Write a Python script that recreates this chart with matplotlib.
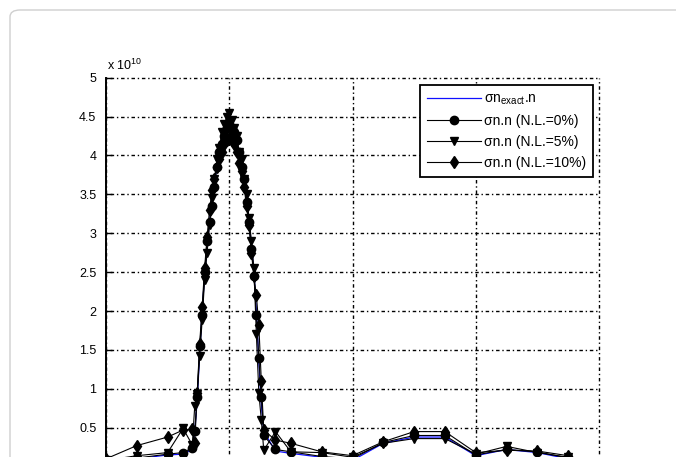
import numpy as np
import matplotlib.pyplot as plt
from matplotlib.patches import FancyBboxPatch
from matplotlib.ticker import FuncFormatter

plt.rcParams['font.family'] = ['Liberation Sans', 'DejaVu Sans']
plt.rcParams['mathtext.fontset'] = 'custom'
plt.rcParams['mathtext.rm'] = 'Liberation Sans'

# sample positions (refined around the peak)
x = [0, 2.5, 5, 6.25, 7.0,
     7.2, 7.4, 7.6, 7.8, 8.0, 8.2, 8.4, 8.6, 8.8, 9.0, 9.2, 9.4, 9.6, 9.8,
     10.0, 10.2, 10.4, 10.6, 10.8, 11.0, 11.2, 11.4, 11.6, 11.8, 12.0,
     12.2, 12.4, 12.6, 12.8,
     13.75, 15, 17.5, 20, 22.5, 25, 27.5, 30, 32.5, 35, 37.5]

# values in units of 1e10
exact = [0.05, 0.10, 0.15, 0.16, 0.22,
         0.45, 0.85, 1.45, 2.00, 2.45, 2.85, 3.15, 3.40, 3.65, 3.85, 4.00, 4.15, 4.30, 4.40,
         4.45, 4.40, 4.30, 4.15, 4.00, 3.85, 3.65, 3.45, 3.15, 2.85, 2.50,
         2.00, 1.35, 0.80, 0.45,
         0.20, 0.17, 0.12, 0.08, 0.30, 0.38, 0.38, 0.14, 0.22, 0.18, 0.10]

nl0 = [0.06, 0.11, 0.16, 0.18, 0.24,
       0.46, 0.90, 1.55, 1.95, 2.50, 2.90, 3.15, 3.35, 3.60, 3.85, 4.05, 4.15, 4.25, 4.35,
       4.40, 4.35, 4.30, 4.20, 4.05, 3.85, 3.70, 3.40, 3.15, 2.80, 2.45,
       1.95, 1.40, 0.90, 0.40,
       0.22, 0.19, 0.13, 0.10, 0.31, 0.40, 0.40, 0.15, 0.22, 0.19, 0.11]

nl5 = [0.08, 0.14, 0.18, 0.49, 0.28,
       0.78, 0.93, 1.42, 1.88, 2.40, 2.75, 3.10, 3.45, 3.70, 3.95, 4.10, 4.30, 4.40, 4.50,
       4.55, 4.45, 4.35, 4.25, 4.05, 3.95, 3.70, 3.50, 3.20, 2.90, 2.55,
       1.70, 0.95, 0.60, 0.21,
       0.45, 0.19, 0.18, 0.12, 0.30, 0.36, 0.36, 0.16, 0.26, 0.18, 0.12]

nl10 = [0.10, 0.27, 0.38, 0.47, 0.48,
        0.30, 0.95, 1.58, 2.05, 2.55, 2.95, 3.30, 3.55, 3.70, 3.85, 3.95, 4.05, 4.15, 4.20,
        4.22, 4.20, 4.15, 4.05, 3.90, 3.80, 3.60, 3.35, 3.10, 2.75, 2.45,
        2.20, 1.82, 1.10, 0.47,
        0.34, 0.30, 0.19, 0.14, 0.32, 0.45, 0.45, 0.18, 0.21, 0.20, 0.14]

xticks = [0, 10, 20, 30, 40]
yticks = [0, 0.5, 1, 1.5, 2, 2.5, 3, 3.5, 4, 4.5, 5]

fig = plt.figure(figsize=(6.76, 4.57), dpi=100)

# rounded panel border
W, H = 676, 457
frame = FancyBboxPatch((10 / W, -0.2), 1.2, 1.2 - 10 / H,
                       boxstyle='round,pad=0,rounding_size=0.015',
                       transform=fig.transFigure, fc='white', ec='#cfcfcf',
                       lw=1.0, zorder=-5)
fig.patches.append(frame)

ax = fig.add_axes([106 / W, -0.021, 493 / W, 0.851])
ax.set_zorder(2)
ax.set_facecolor('none')

ax.plot(x, exact, color='#1010ff', lw=0.9, label=r'σn$_{\rm exact}$.n', zorder=2)
ax.plot(x, nl0, color='k', lw=0.8, marker='o', ms=6, label='σn.n (N.L.=0%)', zorder=3)
ax.plot(x, nl5, color='k', lw=0.8, marker='v', ms=6, label='σn.n (N.L.=5%)', zorder=3)
ax.plot(x, nl10, color='k', lw=0.8, marker='d', ms=6, label='σn.n (N.L.=10%)', zorder=3)

ax.set_xlim(0, 40)
ax.set_ylim(0, 5)
ax.set_xticks(xticks)
ax.set_yticks(yticks)
ax.yaxis.set_major_formatter(FuncFormatter(lambda v, p: '' if v == 0 else '%g' % v))
ax.grid(True, color='k', lw=1.0, linestyle=(0, (1, 2, 2.5, 2)))
for gl in ax.get_xgridlines() + ax.get_ygridlines():
    gl.set_clip_on(False)

for s in ['top', 'right']:
    ax.spines[s].set_visible(False)
ax.spines['left'].set_linewidth(1.4)
ax.spines['bottom'].set_linewidth(1.4)
ax.tick_params(direction='in', length=4, width=1, labelsize=9, pad=7,
               labelbottom=False)

ax.text(0.002, 1.012, r'x 10$^{10}$', transform=ax.transAxes,
        ha='left', va='bottom', fontsize=9)

leg = ax.legend(loc='upper right', bbox_to_anchor=(0.988, 0.982),
                fontsize=10, numpoints=1, handlelength=3.9, handletextpad=0.2,
                labelspacing=0.5, borderpad=0.5, borderaxespad=0, fancybox=False,
                edgecolor='k', framealpha=1)
leg.get_frame().set_linewidth(1.3)

fig.savefig('out.png', dpi=100)
